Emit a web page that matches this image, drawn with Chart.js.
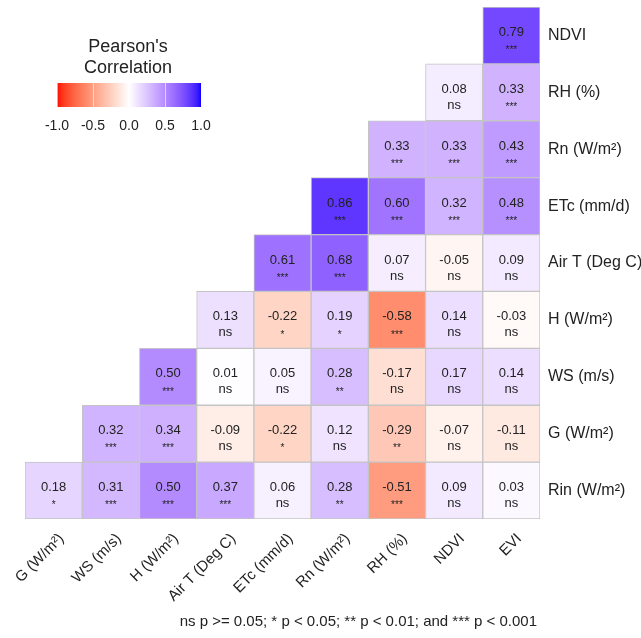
<!DOCTYPE html>
<html>
<head>
<meta charset="utf-8">
<script src="https://cdn.jsdelivr.net/npm/chart.js@4.4.1/dist/chart.umd.min.js"></script>
<style>
  html, body { margin: 0; padding: 0; background: #fff; }
  #wrap { width: 641px; height: 638px; }
</style>
</head>
<body>
<div id="wrap"><canvas id="corr" width="641" height="638"></canvas></div>
<script>
// columns left to right, rows top to bottom
const colLabels = ['G (W/m²)', 'WS (m/s)', 'H (W/m²)', 'Air T (Deg C)', 'ETc (mm/d)', 'Rn (W/m²)', 'RH (%)', 'NDVI', 'EVI'];
const rowLabels = ['NDVI', 'RH (%)', 'Rn (W/m²)', 'ETc (mm/d)', 'Air T (Deg C)', 'H (W/m²)', 'WS (m/s)', 'G (W/m²)', 'Rin (W/m²)'];

// correlation per row (null = empty cell)
const rNDVI = [null, null, null, null, null, null, null, null, 0.79];
const rRH   = [null, null, null, null, null, null, null, 0.08, 0.33];
const rRn   = [null, null, null, null, null, null, 0.33, 0.33, 0.43];
const rETc  = [null, null, null, null, null, 0.86, 0.60, 0.32, 0.48];
const rAirT = [null, null, null, null, 0.61, 0.68, 0.07, -0.05, 0.09];
const rH    = [null, null, null, 0.13, -0.22, 0.19, -0.58, 0.14, -0.03];
const rWS   = [null, null, 0.50, 0.01, 0.05, 0.28, -0.17, 0.17, 0.14];
const rG    = [null, 0.32, 0.34, -0.09, -0.22, 0.12, -0.29, -0.07, -0.11];
const rRin  = [0.18, 0.31, 0.50, 0.37, 0.06, 0.28, -0.51, 0.09, 0.03];

// significance per row
const sNDVI = [null, null, null, null, null, null, null, null, '***'];
const sRH   = [null, null, null, null, null, null, null, 'ns', '***'];
const sRn   = [null, null, null, null, null, null, '***', '***', '***'];
const sETc  = [null, null, null, null, null, '***', '***', '***', '***'];
const sAirT = [null, null, null, null, '***', '***', 'ns', 'ns', 'ns'];
const sH    = [null, null, null, 'ns', '*', '*', '***', 'ns', 'ns'];
const sWS   = [null, null, '***', 'ns', 'ns', '**', 'ns', 'ns', 'ns'];
const sG    = [null, '***', '***', 'ns', '*', 'ns', '**', 'ns', 'ns'];
const sRin  = ['*', '***', '***', '***', 'ns', '**', '***', 'ns', 'ns'];

const legendTicks = [-1.0, -0.5, 0.0, 0.5, 1.0];
const caption = 'ns p >= 0.05; * p < 0.05; ** p < 0.01; and *** p < 0.001';

const corrRows = [rNDVI, rRH, rRn, rETc, rAirT, rH, rWS, rG, rRin];
const sigRows = [sNDVI, sRH, sRn, sETc, sAirT, sH, sWS, sG, sRin];

// --- colour: red - white - blue, interpolated in Lab like ggplot's gradient2
function toLin(c) { c /= 255; return c <= 0.04045 ? c / 12.92 : Math.pow((c + 0.055) / 1.055, 2.4); }
function fromLin(c) { c = c <= 0.0031308 ? 12.92 * c : 1.055 * Math.pow(c, 1 / 2.4) - 0.055; return Math.round(Math.min(1, Math.max(0, c)) * 255); }
function fLab(t) { return t > 216 / 24389 ? Math.cbrt(t) : t / (3 * Math.pow(6 / 29, 2)) + 4 / 29; }
function fInv(t) { return t > 6 / 29 ? t * t * t : 3 * Math.pow(6 / 29, 2) * (t - 4 / 29); }
function rgb2lab(r, g, b) {
  const R = toLin(r), G = toLin(g), B = toLin(b);
  const X = (0.4124564 * R + 0.3575761 * G + 0.1804375 * B) / 0.95047;
  const Y = 0.2126729 * R + 0.7151522 * G + 0.0721750 * B;
  const Z = (0.0193339 * R + 0.1191920 * G + 0.9503041 * B) / 1.08883;
  return [116 * fLab(Y) - 16, 500 * (fLab(X) - fLab(Y)), 200 * (fLab(Y) - fLab(Z))];
}
function lab2rgb(L, a, b) {
  const fy = (L + 16) / 116, fx = fy + a / 500, fz = fy - b / 200;
  const X = fInv(fx) * 0.95047, Y = fInv(fy), Z = fInv(fz) * 1.08883;
  const R = 3.2404542 * X - 1.5371385 * Y - 0.4985314 * Z;
  const G = -0.9692660 * X + 1.8760108 * Y + 0.0415560 * Z;
  const B = 0.0556434 * X - 0.2040259 * Y + 1.0572252 * Z;
  return 'rgb(' + fromLin(R) + ',' + fromLin(G) + ',' + fromLin(B) + ')';
}
const labWhite = rgb2lab(255, 255, 255);
const labHigh = rgb2lab(0, 0, 255);
const labLow = rgb2lab(255, 0, 0);
function corrColor(v) {
  const end = v >= 0 ? labHigh : labLow;
  const t = Math.min(1, Math.abs(v));
  return lab2rgb(labWhite[0] + (end[0] - labWhite[0]) * t,
                 labWhite[1] + (end[1] - labWhite[1]) * t,
                 labWhite[2] + (end[2] - labWhite[2]) * t);
}

const nRows = rowLabels.length;
const datasets = corrRows.map((row, k) => ({
  label: rowLabels[k],
  data: row.map(v => v === null ? null : [nRows - 1 - k, nRows - k]),
  backgroundColor: row.map(v => v === null ? 'transparent' : corrColor(v)),
  borderColor: '#c4c4c4',
  borderWidth: 1,
  borderSkipped: false,
  grouped: false,
  barPercentage: 1,
  categoryPercentage: 1
}));

const FONT = '"Liberation Sans", Arial, Helvetica, sans-serif';
const TXT = '#222';

// cell labels, legend and caption
const extras = {
  id: 'extras',
  afterDatasetsDraw(chart) {
    const ctx = chart.ctx;
    ctx.save();
    ctx.textAlign = 'center';
    ctx.textBaseline = 'middle';
    ctx.fillStyle = TXT;
    chart.data.datasets.forEach((ds, k) => {
      chart.getDatasetMeta(k).data.forEach((el, j) => {
        const v = corrRows[k][j];
        if (v === null) return;
        const cy = (el.y + el.base) / 2;
        ctx.font = '13px ' + FONT;
        ctx.fillText(v.toFixed(2), el.x, cy - 3);
        const s = sigRows[k][j];
        if (s === 'ns') {
          ctx.font = '13px ' + FONT;
          ctx.fillText(s, el.x, cy + 13);
        } else {
          ctx.font = '10px ' + FONT;
          ctx.fillText(s, el.x, cy + 15);
        }
      });
    });
    ctx.restore();
  },
  afterDraw(chart) {
    const ctx = chart.ctx;
    ctx.save();
    ctx.fillStyle = TXT;
    ctx.textAlign = 'center';
    ctx.textBaseline = 'middle';
    ctx.font = '18px ' + FONT;
    ctx.fillText("Pearson's", 128, 47);
    ctx.fillText('Correlation', 128, 68);
    // colour bar
    const x0 = 57, x1 = 201, y0 = 83, y1 = 107;
    for (let px = x0; px < x1; px++) {
      const v = -1 + 2 * (px - x0 + 0.5) / (x1 - x0);
      ctx.fillStyle = corrColor(v);
      ctx.fillRect(px, y0, 1, y1 - y0);
    }
    ctx.strokeStyle = 'rgba(255,255,255,0.6)';
    ctx.lineWidth = 1;
    ctx.fillStyle = TXT;
    ctx.font = '14px ' + FONT;
    legendTicks.forEach(t => {
      const px = x0 + (t + 1) / 2 * (x1 - x0);
      ctx.beginPath();
      ctx.moveTo(Math.round(px) + 0.5, y0);
      ctx.lineTo(Math.round(px) + 0.5, y1);
      ctx.stroke();
      ctx.fillText(t.toFixed(1), px, 126);
    });
    // caption
    ctx.textAlign = 'right';
    ctx.font = '15px ' + FONT;
    ctx.fillText(caption, 537, 622);
    ctx.restore();
  }
};

new Chart(document.getElementById('corr'), {
  type: 'bar',
  data: { labels: colLabels, datasets },
  options: {
    responsive: false,
    animation: false,
    events: [],
    layout: { padding: { left: 25, top: 7, right: 0, bottom: 0 } },
    plugins: { legend: { display: false }, tooltip: { enabled: false } },
    scales: {
      x: {
        type: 'category',
        grid: { display: false, drawTicks: false },
        border: { display: false },
        ticks: {
          color: TXT,
          font: { family: FONT, size: 15 },
          minRotation: 45,
          maxRotation: 45,
          autoSkip: false,
          padding: 11,
          labelOffset: 8
        },
        afterFit(s) { s.height = 119; s.paddingLeft = 0; s.paddingRight = 0; }
      },
      y: {
        type: 'linear',
        min: 0,
        max: nRows,
        display: false
      },
      yl: {
        type: 'category',
        labels: rowLabels,
        position: 'right',
        offset: true,
        grid: { display: false, drawTicks: false },
        border: { display: false },
        ticks: { color: TXT, font: { family: FONT, size: 16 }, padding: 8, autoSkip: false },
        afterFit(s) { s.width = 101; s.paddingTop = 0; s.paddingBottom = 0; }
      }
    }
  },
  plugins: [extras]
});
</script>
</body>
</html>
